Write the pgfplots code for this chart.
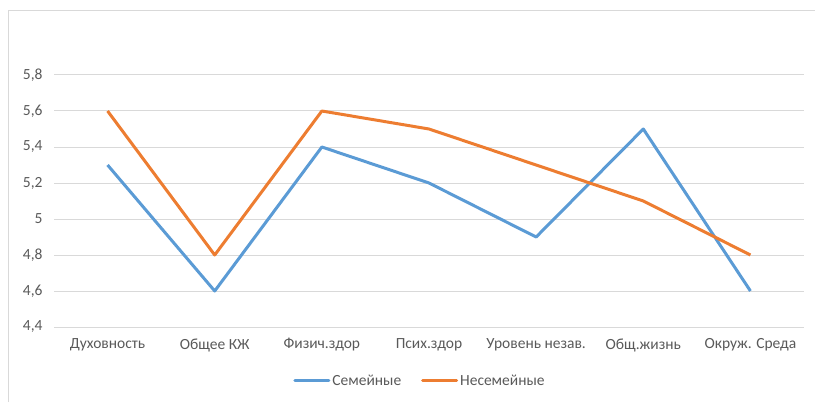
\documentclass[border=0pt]{standalone}
\usepackage{pgfplots}
\pgfplotsset{compat=1.18}
\usepackage{fontspec}
\setmainfont{Carlito}
\definecolor{txt}{RGB}{89,89,89}
\definecolor{gridc}{RGB}{217,217,217}
\definecolor{sblue}{RGB}{91,155,213}
\definecolor{sorange}{RGB}{237,125,49}
\begin{document}
\begin{tikzpicture}[x=1bp,y=1bp]
\path[use as bounding box] (0,0) rectangle (815,402);
\draw[gridc, line width=1bp] (8.5,0) -- (8.5,391.5) -- (815,391.5);
\begin{axis}[
  at={(54bp,75bp)}, anchor=south west,
  scale only axis, width=750bp, height=252bp,
  xmin=-0.5, xmax=6.5, ymin=4.4, ymax=5.8,
  ytick={4.4,4.6,4.8,5.0,5.2,5.4,5.6,5.8},
  xtick={0,1,2,3,4,5,6},
  xticklabels={Духовность, Общее КЖ, Физич.здор, Псих.здор, Уровень незав., Общ.жизнь, Окруж. Среда},
  /pgf/number format/use comma,
  /pgf/number format/assume math mode=true,
  ymajorgrids, major grid style={gridc, line width=1bp},
  axis line style={draw=none},
  major tick style={draw=none},
  tick label style={font=\fontsize{15.5bp}{18bp}\selectfont, text=txt},
  yticklabel style={xshift=-8bp},
  xticklabel style={yshift=-8bp},
  legend columns=2,
  legend style={at={(0.488,-0.214)}, anchor=center, draw=none, fill=none,
    font=\fontsize{15.5bp}{18bp}\selectfont, text=txt,
    /tikz/every even column/.append style={column sep=18bp}},
  legend image code/.code={\draw[#1, line cap=round] (0bp,0bp) -- (34bp,0bp);},
]
\addplot[sblue, line width=3bp, line join=round] coordinates {(0,5.3) (1,4.6) (2,5.4) (3,5.2) (4,4.9) (5,5.5) (6,4.6)};
\addlegendentry{Семейные}
\addplot[sorange, line width=3bp, line join=round] coordinates {(0,5.6) (1,4.8) (2,5.6) (3,5.5) (4,5.3) (5,5.1) (6,4.8)};
\addlegendentry{Несемейные}
\end{axis}
\end{tikzpicture}
\end{document}
